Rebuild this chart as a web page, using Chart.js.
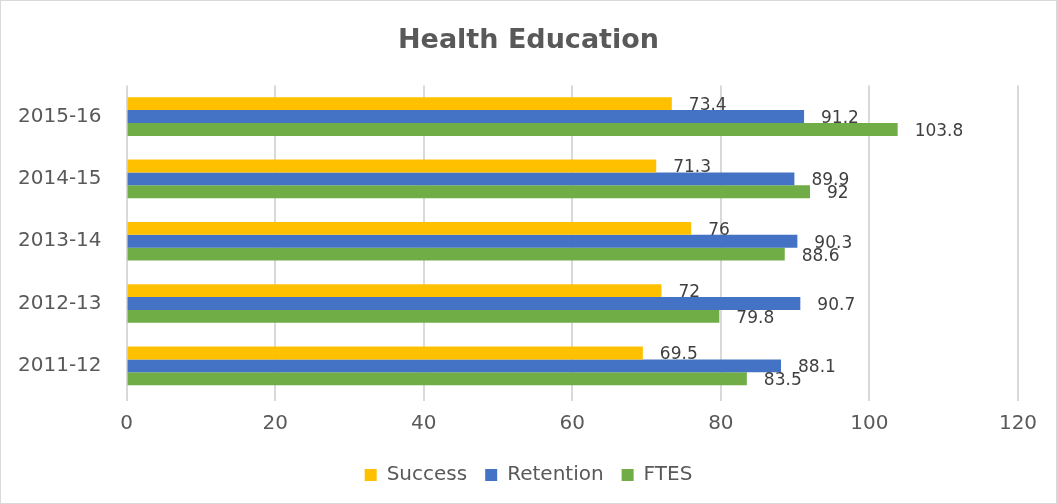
<!DOCTYPE html>
<html>
<head>
<meta charset="utf-8">
<script src="https://cdn.jsdelivr.net/npm/chart.js@4"></script>
<style>
  html, body { margin: 0; padding: 0; background: #fff; }
  #wrap { width: 1055px; height: 502px; border: 1px solid #d9d9d9; position: relative; }
</style>
</head>
<body>
<div id="wrap"><canvas id="chart"></canvas></div>
<script>
// values
var years = ['2015-16', '2014-15', '2013-14', '2012-13', '2011-12'];
var success = [73.4, 71.3, 76, 72, 69.5];
var retention = [91.2, 89.9, 90.3, 90.7, 88.1];
var ftes = [103.8, 92, 88.6, 79.8, 83.5];
var xTicks = [0, 20, 40, 60, 80, 100, 120];

// value labels just past the end of each bar
var barLabels = {
    id: 'barLabels',
    afterDatasetsDraw: function(chart) {
        var ctx = chart.ctx;
        ctx.save();
        ctx.font = '17px "DejaVu Sans"';
        ctx.fillStyle = '#404040';
        ctx.textAlign = 'left';
        ctx.textBaseline = 'middle';
        chart.data.datasets.forEach(function(ds, i) {
            chart.getDatasetMeta(i).data.forEach(function(bar, j) {
                ctx.fillText(String(ds.data[j]), bar.x + 17, bar.y + 2);
            });
        });
        ctx.restore();
    }
};

var ctx = document.getElementById('chart').getContext('2d');
var chart = new Chart(ctx, {
    type: 'bar',
    data: {
        labels: years,
        datasets: [
            { label: 'Success', data: success, backgroundColor: '#FFC000' },
            { label: 'Retention', data: retention, backgroundColor: '#4472C4' },
            { label: 'FTES', data: ftes, backgroundColor: '#70AD47' }
        ]
    },
    options: {
        indexAxis: 'y',
        responsive: true,
        maintainAspectRatio: false,
        animation: false,
        layout: { padding: { left: 0, right: 0, top: 8, bottom: 8 } },
        datasets: { bar: { categoryPercentage: 0.62, barPercentage: 1 } },
        scales: {
            x: {
                min: 0,
                max: 120,
                afterBuildTicks: function(axis) {
                    axis.ticks = xTicks.map(function(v) { return { value: v }; });
                },
                afterFit: function(axis) {
                    // keep room on the right like the original plot
                    axis.paddingRight = 38;
                },
                grid: { color: '#d9d9d9', lineWidth: 2, tickLength: 4 },
                border: { display: false },
                ticks: { color: '#595959', font: { family: 'DejaVu Sans', size: 20 }, padding: 11 }
            },
            y: {
                grid: { display: false },
                border: { display: false },
                ticks: { color: '#595959', font: { family: 'DejaVu Sans', size: 20 }, padding: 17 }
            }
        },
        plugins: {
            title: {
                display: true,
                text: 'Health Education',
                color: '#595959',
                font: { family: 'DejaVu Sans', size: 27, weight: 'bold' },
                padding: { top: 16, bottom: 28 }
            },
            legend: {
                position: 'bottom',
                labels: {
                    color: '#595959',
                    font: { family: 'DejaVu Sans', size: 20 },
                    boxWidth: 12,
                    boxHeight: 12,
                    padding: 18
                }
            },
            tooltip: { enabled: false }
        }
    },
    plugins: [barLabels]
});
</script>
</body>
</html>
